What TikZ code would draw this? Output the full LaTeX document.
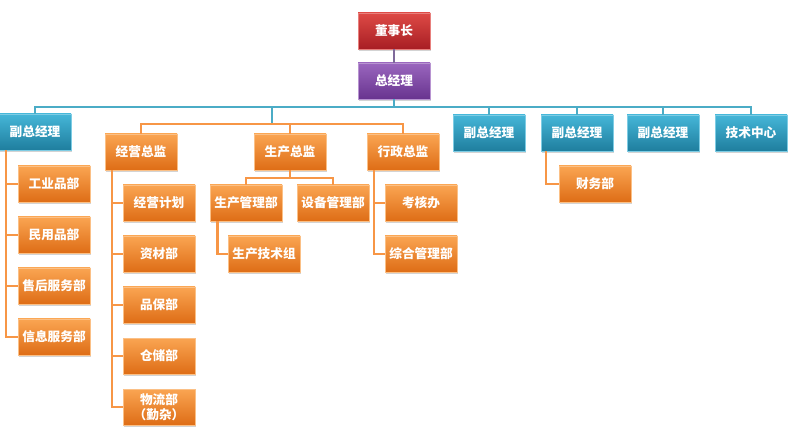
\documentclass[tikz,border=0pt]{standalone}
\usepackage{fontspec}
\usepackage{xcolor}
\usepackage{tikz}
\usetikzlibrary{shadows}
\newfontfamily\cjk{Noto Sans CJK SC}

\definecolor{redtop}{HTML}{DE4A45}
\definecolor{redbot}{HTML}{A81E24}
\definecolor{purtop}{HTML}{9A66BE}
\definecolor{purbot}{HTML}{68348F}
\definecolor{blutop}{HTML}{45B6D8}
\definecolor{blubot}{HTML}{1F7E9E}
\definecolor{orgtop}{HTML}{FAA552}
\definecolor{orgbot}{HTML}{DE6D16}
\definecolor{busblue}{HTML}{4BACC6}
\definecolor{busorange}{HTML}{F79646}
\definecolor{busgray}{HTML}{7F6A9A}

\tikzset{
  box/.style={rectangle, minimum width=54pt, minimum height=27pt, inner sep=1pt,
    text=white, font=\cjk\bfseries\fontsize{9.5}{11}\selectfont, align=center,
    line width=0.7pt, drop shadow={opacity=0.35, shadow xshift=1pt, shadow yshift=-1.2pt}},
  redbox/.style={box, top color=redtop, bottom color=redbot, draw=redtop!70!white},
  purbox/.style={box, top color=purtop, bottom color=purbot, draw=purtop!70!white},
  blubox/.style={box, top color=blutop, bottom color=blubot, draw=blutop!70!white},
  orgbox/.style={box, top color=orgtop, bottom color=orgbot, draw=orgtop!70!white},
  bline/.style={busblue, line width=1.6pt},
  oline/.style={busorange, line width=1.6pt},
}

\begin{document}
\begin{tikzpicture}[x=0.75pt, y=-0.75pt, node distance=38.25pt]
  \useasboundingbox (0,0) rectangle (788,441);

  \node [redbox] (chair) at (394,31) {董事长};
  \node [purbox] (gm) at (394,81) {总经理};

  \node [blubox] (vpA) at (35,132) {副总经理};
  \node [blubox] (vpB) at (489,133) {副总经理};
  \node [blubox] (vpC) at (577,133) {副总经理};
  \node [blubox] (vpD) at (663,133) {副总经理};
  \node [blubox] (tech) at (751,133) {技术中心};

  \node [orgbox] (jy) at (141,152) {经营总监};
  \node [orgbox] (sc) at (290,152) {生产总监};
  \node [orgbox] (xz) at (403,152) {行政总监};

  \node [orgbox] (gy) at (54,184) {工业品部};
  \node [orgbox, below of=gy] (my) {民用品部};
  \node [orgbox, below of=my] (sh) {售后服务部};
  \node [orgbox, below of=sh] (xx) {信息服务部};

  \node [orgbox] (jh) at (159,203) {经营计划};
  \node [orgbox, below of=jh] (zc) {资材部};
  \node [orgbox, below of=zc] (pb) {品保部};
  \node [orgbox, below of=pb] (cc) {仓储部};
  \node [orgbox, below of=cc] (wl) {物流部\\（勤杂）};

  \node [orgbox] (pm) at (246,203) {生产管理部};
  \node [orgbox] (em) at (333,203) {设备管理部};
  \node [orgbox] (pt) at (264,254) {生产技术组};

  \node [orgbox] (kh) at (421,203) {考核办};
  \node [orgbox, below of=kh] (zh) {综合管理部};

  \node [orgbox] (cw) at (595,184) {财务部};

  \coordinate (bus) at (394,107);
  \coordinate (sub) at (272,124);
  \coordinate (pbus) at (290,178);

  \draw [busgray, line width=1.6pt] (chair) -- (gm);
  \draw [bline] (gm.south) -- (bus);
  \draw [bline] (vpA.north) |- (bus) -| (tech.north);
  \foreach \n in {vpB,vpC,vpD}
    \draw [bline] (\n.north) -- (\n.north |- bus);
  \draw [bline] (sub |- bus) -- (sub);

  \draw [oline] (jy.north) |- (sub) -| (xz.north);
  \draw [oline] (sc.north) -- (sc.north |- sub);

  \draw [oline] (sc.south) -- (pbus);
  \draw [oline] (pm.north) |- (pbus) -| (em.north);

  \draw [oline] ([xshift=5.5pt]vpA.south west) |- (xx.west);
  \foreach \n in {gy,my,sh}
    \draw [oline] (\n.west) -- ++(-8pt,0);

  \draw [oline] ([xshift=5.5pt]jy.south west) |- (wl.west);
  \foreach \n in {jh,zc,pb,cc}
    \draw [oline] (\n.west) -- ++(-7.5pt,0);

  \draw [oline] ([xshift=6pt]pm.south west) |- (pt.west);

  \draw [oline] ([xshift=5.5pt]xz.south west) |- (zh.west);
  \draw [oline] (kh.west) -- ++(-8pt,0);

  \draw [oline] ([xshift=4pt]vpC.south west) |- (cw.west);
\end{tikzpicture}
\end{document}
